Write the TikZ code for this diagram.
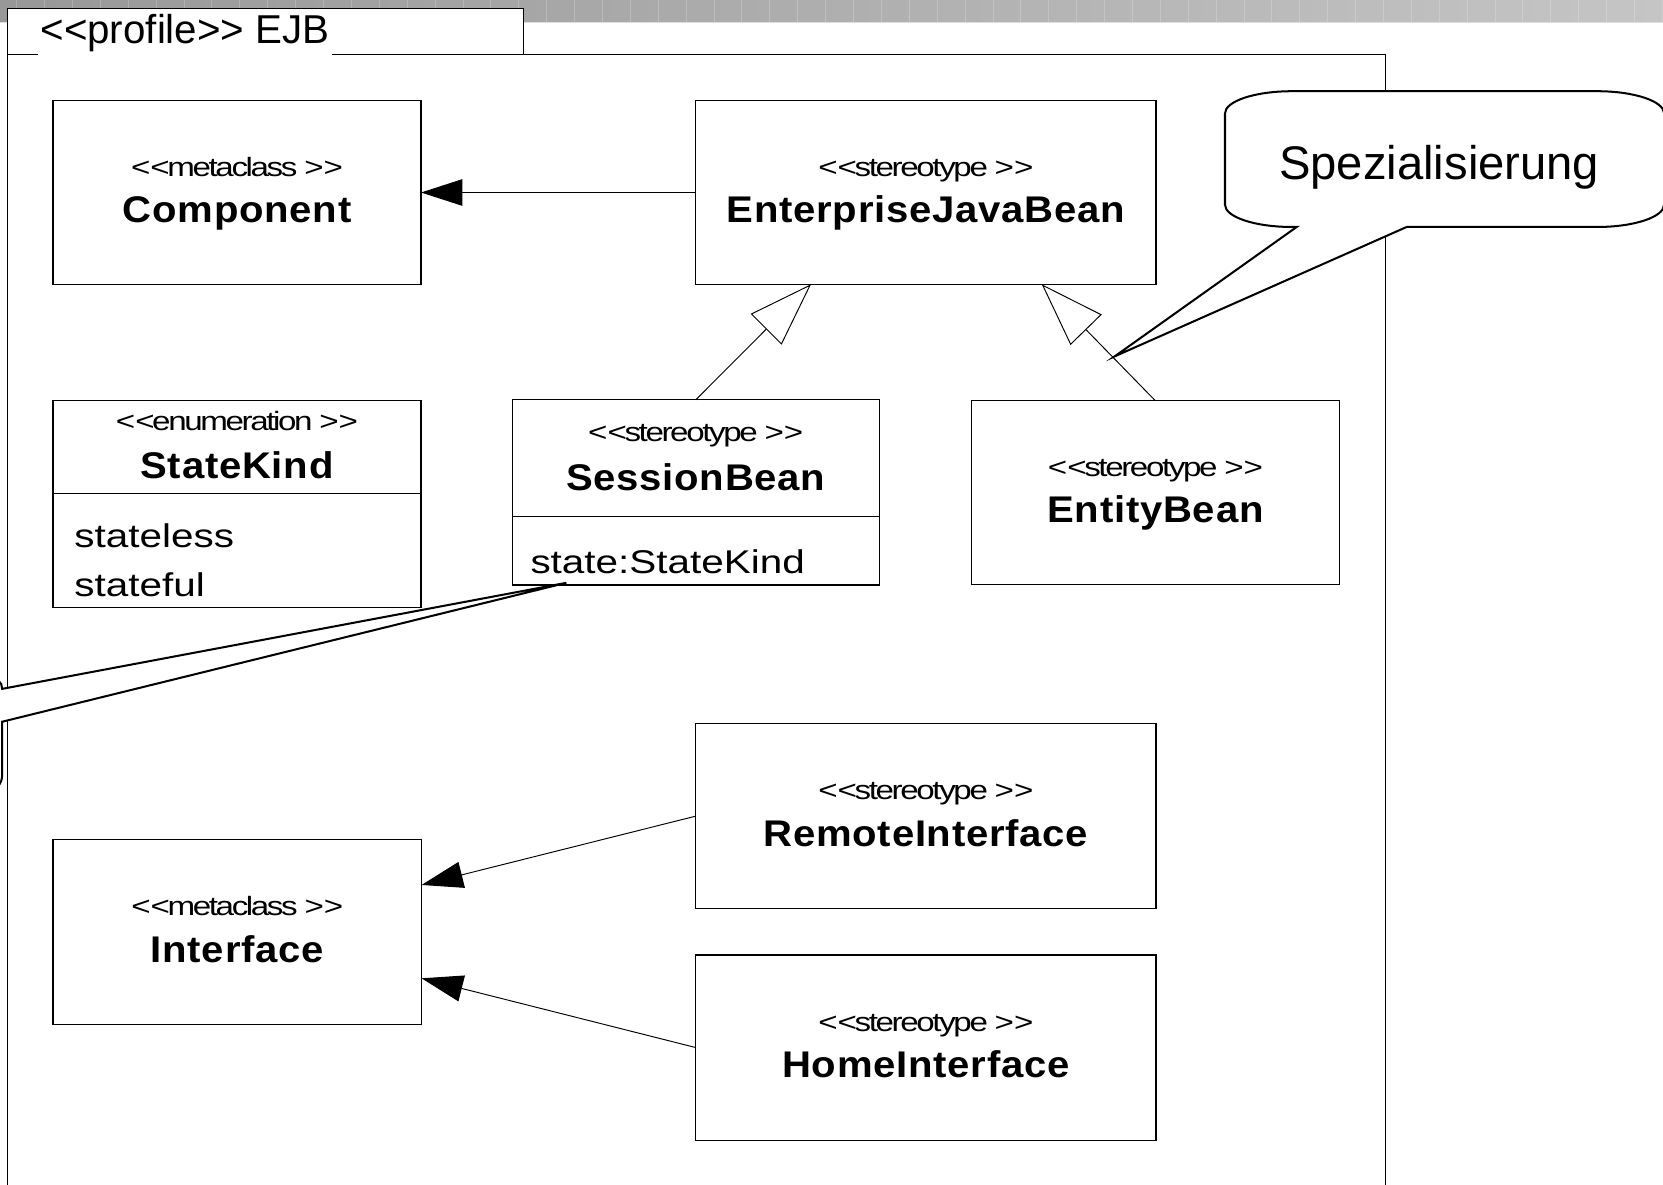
\documentclass[tikz,border=0pt]{standalone}
\usepackage{fontspec}
\setmainfont{Liberation Sans}
\newfontfamily\stereofam[FakeStretch=1.25,LetterSpace=-9]{Liberation Sans}
\newfontfamily\namefam[FakeStretch=1.08,LetterSpace=2]{Liberation Sans}
\newfontfamily\attrfam[FakeStretch=1.23]{Liberation Sans}
\usetikzlibrary{arrows.meta,calc}
% guillemet-like double angle brackets, kept as two separate glyphs
\newcommand\lguil{<\kern0pt<}
\newcommand\rguil{>\kern0pt>}
\definecolor{barL}{RGB}{152,152,152}
\definecolor{barR}{RGB}{197,197,197}
\definecolor{barEdge}{RGB}{222,222,222}
\begin{document}
\begin{tikzpicture}[x=1pt,y=-1pt,
  umlbox/.style={draw, line width=1.1pt, fill=white, inner sep=0pt, outer sep=0pt},
  stereo/.style={font=\stereofam\fontsize{25}{29}\selectfont, anchor=base, inner sep=0pt},
  cname/.style={font=\namefam\bfseries\fontsize{35}{40}\selectfont, anchor=base, inner sep=0pt},
  attr/.style={font=\attrfam\fontsize{31}{36}\selectfont, anchor=base west, inner sep=0pt},
  assoc/.style={line width=0.9pt, -{Triangle[length=39pt,width=25pt]}},
  gen/.style={line width=0.9pt, -{Triangle[open,length=60pt,width=41pt,fill=white]}},
  note/.style={draw, line width=1.9pt, fill=white},
  framestyle/.style={line width=1pt}]
\useasboundingbox (0,0) rectangle (1568,1117);

% window title bar
\shade[left color=barL, right color=barR] (0,0) rectangle (1568,20.5);
\foreach \i in {0,...,59}
  \draw[white, opacity=0.2, line width=0.8pt] ({15.7+26.3*\i},0) -- ++(0,20.5);
\draw[barEdge, line width=1pt] (0,21) -- (1568,21);

% package frame with its tab
\draw[framestyle, fill=white] (7,51) -- (7,8) -- (494,8) -- (494,51);
\draw[framestyle] (7,1130) -- (7,51) -- (1306,51) -- (1306,1130);
\node[anchor=base west, fill=white, inner xsep=2pt, inner ysep=4pt,
      text height=28pt, text depth=8pt, font=\fontsize{38}{44}\selectfont]
      (tablabel) at (36,41) {\lguil profile\rguil{} EJB};

% classes
\node[umlbox, minimum width=347pt, minimum height=173pt] (comp) at (223.5,181.5) {};
\node[stereo] (compst) at ($(comp.center)+(0,-15.5)$) {\lguil metaclass \rguil};
\node[cname]  (compnm) at ($(comp.center)+(0,28.5)$) {Component};

\node[umlbox, minimum width=434pt, minimum height=173pt] (ejb) at (873,181.5) {};
\node[stereo] (ejbst) at ($(ejb.center)+(0,-15.5)$) {\lguil stereotype \rguil};
\node[cname]  (ejbnm) at ($(ejb.center)+(0,28.5)$) {EnterpriseJavaBean};

\node[umlbox, minimum width=347pt, minimum height=195pt] (sk) at (223.5,475.5) {};
\draw[line width=1.1pt] ($(sk.north west)+(0,87)$) -- ($(sk.north east)+(0,87)$);
\node[stereo] (skst) at ($(sk.north)+(0,28)$) {\lguil enumeration \rguil};
\node[cname]  (sknm) at ($(sk.north)+(0,73)$) {StateKind};
\node[attr]   (sk1)  at ($(sk.north west)+(20,138)$) {stateless};
\node[attr]   (sk2)  at ($(sk.north west)+(20,184)$) {stateful};

\node[umlbox, minimum width=346pt, minimum height=174.5pt] (session) at (656,464.25) {};
\draw[line width=1.1pt] ($(session.north west)+(0,110)$) -- ($(session.north east)+(0,110)$);
\node[stereo] (sesst) at ($(session.north)+(0,39.4)$) {\lguil stereotype \rguil};
\node[cname]  (sesnm) at ($(session.north)+(0,85)$) {SessionBean};
\node[attr]   (sesat) at ($(session.north west)+(17,164)$) {state:StateKind};

\node[umlbox, minimum width=347pt, minimum height=173pt] (entity) at (1089.5,464.5) {};
\node[stereo] (entst) at ($(entity.center)+(0,-15.5)$) {\lguil stereotype \rguil};
\node[cname]  (entnm) at ($(entity.center)+(0,28.5)$) {EntityBean};

\node[umlbox, minimum width=434pt, minimum height=174pt] (remote) at (873,769.5) {};
\node[stereo] (remst) at ($(remote.center)+(0,-15.5)$) {\lguil stereotype \rguil};
\node[cname]  (remnm) at ($(remote.center)+(0,28.5)$) {RemoteInterface};

\node[umlbox, minimum width=347.5pt, minimum height=174.4pt] (iface) at (223.75,878.6) {};
\node[stereo] (ifst) at ($(iface.center)+(0,-15.5)$) {\lguil metaclass \rguil};
\node[cname]  (ifnm) at ($(iface.center)+(0,28.5)$) {Interface};

\node[umlbox, minimum width=434pt, minimum height=174.5pt] (home) at (873,987.7) {};
\node[stereo] (homst) at ($(home.center)+(0,-15.5)$) {\lguil stereotype \rguil};
\node[cname]  (homnm) at ($(home.center)+(0,28.5)$) {HomeInterface};

% extensions and generalizations
\draw[assoc] (ejb.west) -- (comp.east);
\draw[assoc] (remote.west) -- ($(iface.east)+(0,-44.2)$);
\draw[assoc] (home.west) -- ($(iface.east)+(0,43.8)$);
\draw[gen] (session.north) -- ($(ejb.south)+(-108.3,0)$);
\draw[gen] (entity.north) -- ($(ejb.south)+(109.2,0)$);

% comment bubbles
\coordinate (spectip) at (1051,336);
\draw[note] (1155,107) -- (1155,193)
  .. controls (1155,204.6) and (1183.2,214) .. (1218,214) -- (1222.6,214)
  -- (spectip) -- (1326.3,214) -- (1506,214)
  .. controls (1540.8,214) and (1569,204.6) .. (1569,193) -- (1569,107)
  .. controls (1569,95.4) and (1540.8,86) .. (1506,86) -- (1218,86)
  .. controls (1183.2,86) and (1155,95.4) .. (1155,107) -- cycle;
\node[anchor=base, inner sep=0pt, font=\fontsize{44.5}{52}\selectfont]
  (spectext) at (1357,169) {Spezialisierung};

\coordinate (statetip) at (534,549.5);
\draw[note] (-14,637) .. controls (-2,639) and (2,643) .. (2,649.5)
  -- (statetip) -- (2,680.5) -- (2,731)
  .. controls (2,739) and (-3,745) .. (-14,746);
\end{tikzpicture}
\end{document}
